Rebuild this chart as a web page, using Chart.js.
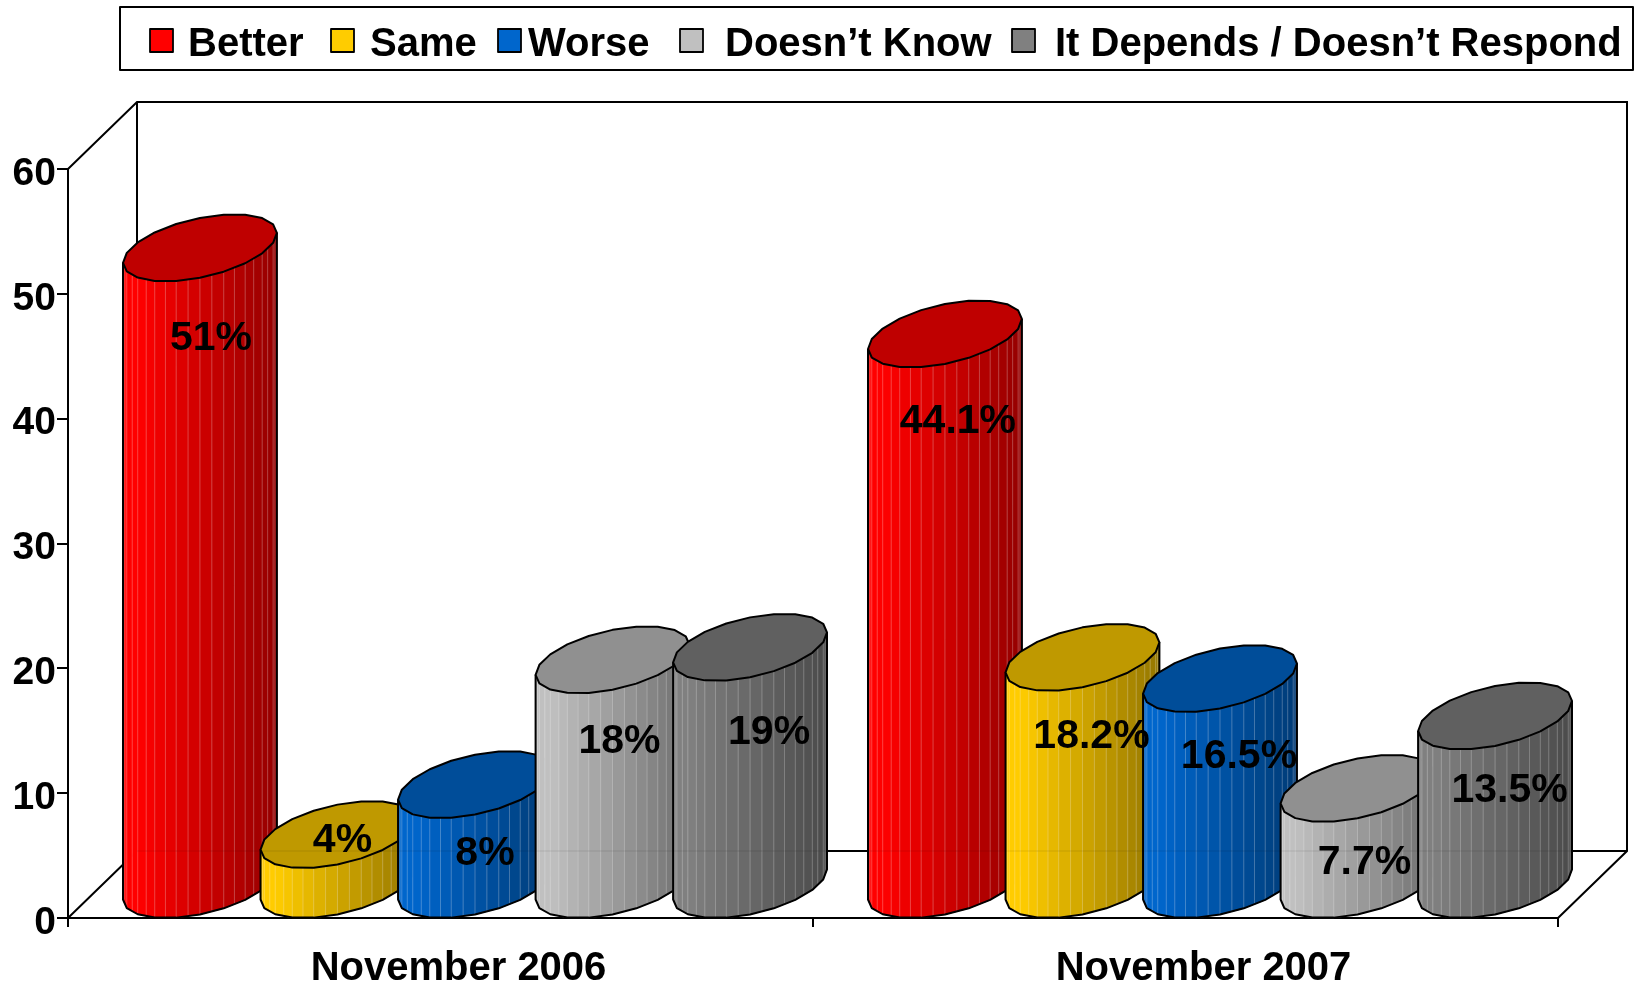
<!DOCTYPE html>
<html>
<head>
<meta charset="utf-8">
<style>html,body{margin:0;padding:0;background:#fff}canvas{display:block}</style>
<script src="https://cdn.jsdelivr.net/npm/chart.js@4"></script>
</head>
<body>
<canvas id="c" width="1636" height="983"></canvas>
<script>
const categories = ["November 2006", "November 2007"];
const better = [51, 44.1];
const same = [4, 18.2];
const worse = [8, 16.5];
const doesntKnow = [18, 7.7];
const itDepends = [19, 13.5];
const seriesNames = ["Better", "Same", "Worse", "Doesn\u2019t Know", "It Depends / Doesn\u2019t Respond"];
const seriesValues = [better, same, worse, doesntKnow, itDepends];
const yTicks = [0, 10, 20, 30, 40, 50, 60];

// styling + layout, separate from the data
const colours = ["#ff0000", "#ffcc00", "#0066cc", "#c0c0c0", "#808080"];
const FONT = '"Liberation Sans", Arial, sans-serif';
const DEPTH = {x: 69, y: -67};
const LEGEND = {
  box: [120, 7, 1633, 70],
  swatches: [150, 331, 498, 680, 1012],
  texts: [188, 370, 528, 725, 1055]
};
const LABEL_NUDGE = [
  [[11, 57], [13, 54]],
  [[5, -27], [9, 46]],
  [[10, 36], [19, 45]],
  [[7, 48], [7, 41]],
  [[19, 52], [14.5, 41]]
];

function shade(hex, f) {
  const n = parseInt(hex.slice(1), 16);
  const c = [n >> 16, (n >> 8) & 255, n & 255].map(v => Math.round(v * f));
  return `rgb(${c[0]},${c[1]},${c[2]})`;
}

function drawCylinder(ctx, el, base, colour) {
  const a = el.width / 2, hx = DEPTH.x / 2, hy = DEPTH.y / 2;
  const cx = el.x + hx, topY = el.y + hy, botY = base + hy;
  const phi = Math.atan2(hx, a);
  const tL = -Math.PI + phi;
  const halfW = Math.hypot(a, hx), left = cx - halfW;
  const SIDES = 20;
  // faceted cap, expressed as offsets from the cap centre
  const ring = [];
  for (let i = 0; i < SIDES; i++) {
    const t = tL + 2 * Math.PI * i / SIDES;
    ring.push([cx + a * Math.cos(t) + hx * Math.sin(t), hy * Math.sin(t)]);
  }
  // front half of the ring, each edge split in two for the shading strips
  const front = [];
  for (let i = 0; i < SIDES / 2; i++) {
    const p = ring[i], q = ring[i + 1];
    front.push(p, [(p[0] + q[0]) / 2, (p[1] + q[1]) / 2]);
  }
  front.push(ring[SIDES / 2]);

  for (let i = 0; i < front.length - 1; i++) {
    const p = front[i], q = front[i + 1];
    const u = ((p[0] + q[0]) / 2 - left) / (2 * halfW);
    const f = u < 0.1 ? 1 : 1 - 0.42 * (u - 0.1) / 0.9;
    ctx.beginPath();
    ctx.moveTo(p[0], topY + p[1]); ctx.lineTo(q[0], topY + q[1]);
    ctx.lineTo(q[0], botY + q[1]); ctx.lineTo(p[0], botY + p[1]); ctx.closePath();
    ctx.fillStyle = shade(colour, f); ctx.strokeStyle = shade(colour, f); ctx.lineWidth = 1;
    ctx.fill(); ctx.stroke();
  }
  // pale seams between the strips
  ctx.strokeStyle = "rgba(255,255,255,0.26)"; ctx.lineWidth = 1;
  for (let i = 1; i < front.length - 1; i++) {
    const p = front[i];
    ctx.beginPath(); ctx.moveTo(p[0], topY + p[1]); ctx.lineTo(p[0], botY + p[1]); ctx.stroke();
  }
  // outline of the body
  ctx.strokeStyle = "#000"; ctx.lineWidth = 2; ctx.lineJoin = "round";
  ctx.beginPath();
  ctx.moveTo(ring[0][0], topY + ring[0][1]);
  for (let i = 0; i <= SIDES / 2; i++) ctx.lineTo(ring[i][0], botY + ring[i][1]);
  ctx.lineTo(ring[SIDES / 2][0], topY + ring[SIDES / 2][1]);
  ctx.stroke();
  // top cap
  ctx.beginPath();
  ring.forEach((p, i) => { if (i === 0) ctx.moveTo(p[0], topY + p[1]); else ctx.lineTo(p[0], topY + p[1]); });
  ctx.closePath();
  ctx.fillStyle = shade(colour, 0.75);
  ctx.fill(); ctx.stroke();
}

const scenePlugin = {
  id: "scene",
  beforeDatasetsDraw(chart) {
    const ctx = chart.ctx, {left, right, top, bottom} = chart.chartArea;
    ctx.save();
    ctx.strokeStyle = "#000"; ctx.lineWidth = 2; ctx.lineCap = "butt";
    const bx0 = left + DEPTH.x, bx1 = right + DEPTH.x, by0 = top + DEPTH.y, by1 = bottom + DEPTH.y;
    ctx.beginPath();
    ctx.moveTo(left, top); ctx.lineTo(bx0, by0); ctx.lineTo(bx1, by0); ctx.lineTo(bx1, by1);
    ctx.lineTo(right, bottom);
    ctx.moveTo(bx1, by1); ctx.lineTo(bx0, by1); ctx.lineTo(bx0, by0);
    ctx.moveTo(left, bottom); ctx.lineTo(bx0, by1);
    ctx.stroke();

    chart.data.datasets.forEach((ds, i) => {
      chart.getDatasetMeta(i).data.forEach(el => {
        drawCylinder(ctx, el, chart.scales.y.getPixelForValue(0), colours[i]);
      });
    });
    // the back floor edge shows faintly through the bars
    ctx.strokeStyle = "rgba(0,0,0,0.07)"; ctx.lineWidth = 1.5;
    ctx.beginPath(); ctx.moveTo(bx0, by1); ctx.lineTo(bx1, by1); ctx.stroke();

    // value labels
    ctx.fillStyle = "#000"; ctx.font = "bold 41px " + FONT;
    ctx.textAlign = "center"; ctx.textBaseline = "middle";
    chart.data.datasets.forEach((ds, i) => {
      chart.getDatasetMeta(i).data.forEach((el, j) => {
        const n = LABEL_NUDGE[i][j];
        ctx.fillText(ds.data[j] + "%", el.x + DEPTH.x / 2 + n[0], el.y + n[1]);
      });
    });

    // legend
    const b = LEGEND.box;
    ctx.strokeStyle = "#000"; ctx.lineWidth = 2;
    ctx.strokeRect(b[0], b[1], b[2] - b[0], b[3] - b[1]);
    ctx.textAlign = "left"; ctx.textBaseline = "alphabetic"; ctx.font = "bold 40px " + FONT;
    chart.data.datasets.forEach((ds, i) => {
      ctx.fillStyle = colours[i]; ctx.lineWidth = 1.8;
      ctx.fillRect(LEGEND.swatches[i], 29, 23, 23);
      ctx.strokeRect(LEGEND.swatches[i], 29, 23, 23);
      ctx.fillStyle = "#000";
      ctx.fillText(ds.label, LEGEND.texts[i], 56);
    });
    ctx.restore();
    return false;
  }
};

new Chart(document.getElementById("c"), {
  type: "bar",
  data: {
    labels: categories,
    datasets: seriesNames.map((name, i) => ({label: name, data: seriesValues[i], backgroundColor: colours[i]}))
  },
  plugins: [scenePlugin],
  options: {
    responsive: false,
    animation: false,
    events: [],
    layout: {padding: {left: 0, right: 78, top: 169, bottom: 0}},
    datasets: {bar: {categoryPercentage: 0.923, barPercentage: 1}},
    plugins: {legend: {display: false}, tooltip: {enabled: false}, title: {display: false}},
    scales: {
      x: {
        afterFit(s) { s.height = 65; },
        grid: {display: true, drawOnChartArea: false, drawTicks: true, tickLength: 9, offset: true, color: "#000", lineWidth: 2},
        border: {display: true, color: "#000", width: 2},
        ticks: {color: "#000", padding: 18, labelOffset: 18, maxRotation: 0, font: {family: FONT, weight: "bold", size: 40}}
      },
      y: {
        min: yTicks[0], max: yTicks[yTicks.length - 1],
        afterFit(s) { s.width = 68; },
        afterBuildTicks(s) { s.ticks = yTicks.map(v => ({value: v})); },
        grid: {display: true, drawOnChartArea: false, drawTicks: true, tickLength: 11, color: "#000", lineWidth: 2},
        border: {display: true, color: "#000", width: 2},
        ticks: {color: "#000", padding: 1, labelOffset: 5, font: {family: FONT, weight: "bold", size: 39}}
      }
    }
  }
});
</script>
</body>
</html>
